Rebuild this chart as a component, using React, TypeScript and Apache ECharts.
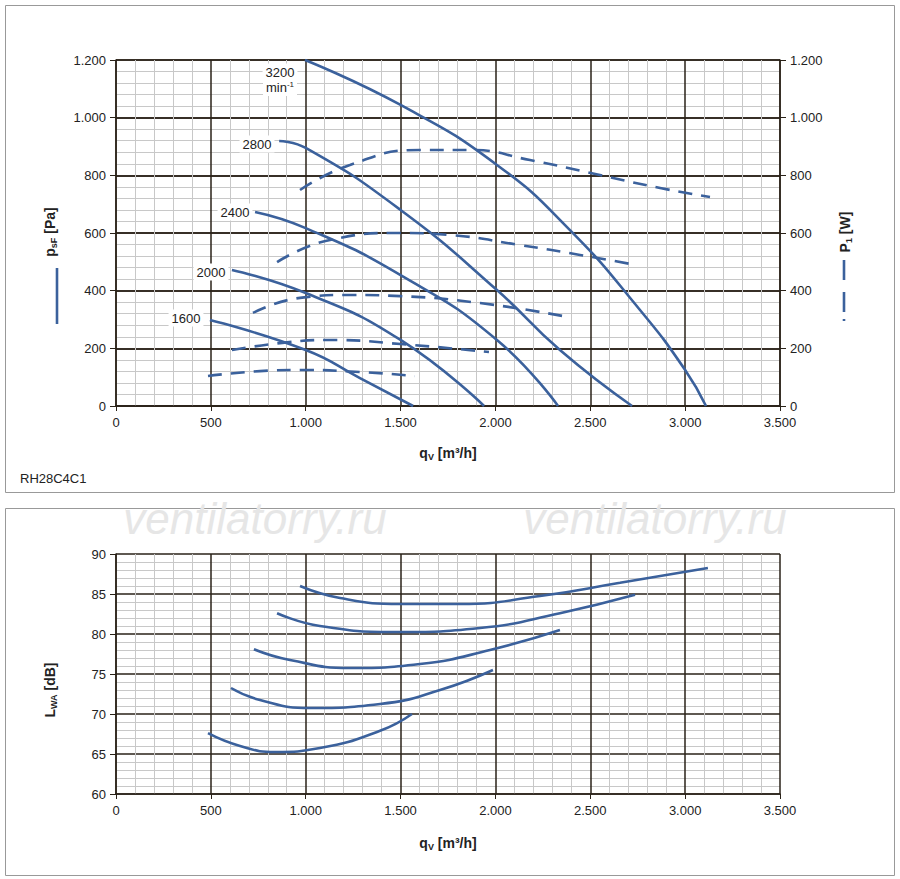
import React, { useEffect, useRef } from 'react';
import * as echarts from 'echarts';

// pressure curves [q m³/h, psF Pa]
const p3200 = [[996, 1200], [1500, 1044], [2008, 836], [2393, 610], [2762, 333], [3000, 125], [3110, 0]];
const p2800 = [[860, 919], [1000, 895], [1500, 680], [2008, 402], [2340, 194], [2720, 0]];
const p2400 = [[733, 673], [1000, 617], [1500, 454], [2008, 229], [2330, 0]];
const p2000 = [[611, 472], [1000, 392], [1500, 229], [1940, 0]];
const p1600 = [[495, 298], [1000, 194], [1286, 97], [1566, 0]];

// power curves [q, P1 W]
const w3200 = [[970, 749], [1233, 836], [1602, 888], [1866, 888], [2182, 853], [2551, 801], [2868, 756], [3131, 725]];
const w2800 = [[849, 499], [1128, 576], [1500, 600], [1761, 593], [2130, 558], [2446, 524], [2741, 489]];
const w2400 = [[722, 323], [970, 375], [1233, 385], [1500, 381], [1919, 357], [2356, 312]];
const w2000 = [[611, 194], [864, 218], [1128, 229], [1500, 215], [1966, 187]];
const w1600 = [[485, 104], [759, 121], [970, 125], [1286, 118], [1576, 104]];

// sound power [q, LwA dB]
const s3200 = [[970, 86.0], [1181, 84.5], [1500, 83.75], [1813, 83.75], [2235, 84.75], [2657, 86.4], [3120, 88.25]];
const s2800 = [[849, 82.6], [1075, 81], [1500, 80.25], [1919, 80.75], [2340, 82.6], [2736, 84.9]];
const s2400 = [[727, 78.1], [917, 76.75], [1233, 75.75], [1602, 76.25], [1971, 78], [2340, 80.5]];
const s2000 = [[606, 73.25], [759, 71.75], [1023, 70.75], [1392, 71.25], [1708, 73], [1987, 75.5]];
const s1600 = [[485, 67.6], [654, 66], [838, 65.25], [1075, 65.75], [1392, 67.9], [1560, 70]];

const speedLabels = ['3200', '2800', '2400', '2000', '1600'];

const BLUE = '#3b619c';
const FONT = '"Liberation Sans", Arial, sans-serif';
const fmt = (v: number) => (v >= 1000 ? Math.floor(v / 1000) + '.' + String(v % 1000).padStart(3, '0') : String(v));

const xAxisBase = (gridIndex: number) => ({
  type: 'value', gridIndex, min: 0, max: 3500, interval: 500,
  axisLine: { show: true, onZero: false, lineStyle: { color: '#2a2218', width: 1.5 } },
  axisTick: { show: true, length: 5, lineStyle: { color: '#2a2218' } },
  axisLabel: { color: '#222', fontFamily: FONT, fontSize: 13, formatter: fmt, margin: 10 },
  splitLine: { show: true, lineStyle: { color: '#2a2218', width: 1.5 } },
  minorTick: { show: false, splitNumber: 5 },
  minorSplitLine: { show: true, lineStyle: { color: '#c8c8c8', width: 1 } },
});

const yAxisBase = (gridIndex: number, min: number, max: number, interval: number, split: number, pos: string, f: any) => ({
  type: 'value', gridIndex, min, max, interval, position: pos,
  axisLine: { show: true, onZero: false, lineStyle: { color: '#2a2218', width: 1.5 } },
  axisTick: { show: true, length: 6, lineStyle: { color: '#2a2218' } },
  axisLabel: { color: '#222', fontFamily: FONT, fontSize: 13, formatter: f, margin: 10 },
  splitLine: { show: true, lineStyle: { color: '#2a2218', width: 1.5 } },
  minorTick: { show: false, splitNumber: split },
  minorSplitLine: { show: true, lineStyle: { color: '#c8c8c8', width: 1 } },
});

const solid = (data: number[][], x: number, y: number) => ({
  type: 'line', data, xAxisIndex: x, yAxisIndex: y, smooth: true, symbol: 'none',
  lineStyle: { color: BLUE, width: 2.6 },
});
const dashed = (data: number[][]) => ({
  type: 'line', data, xAxisIndex: 0, yAxisIndex: 1, smooth: true, symbol: 'none',
  lineStyle: { color: BLUE, width: 2.6, type: [14, 9] },
});

const label = (text: string, x: number, y: number) => ({
  type: 'text', x, y, z: 100,
  style: { text, font: `13px ${FONT}`, fill: '#222', backgroundColor: '#fff', padding: [2, 3], align: 'center', verticalAlign: 'middle' },
});

const axisTitle = (a: string, s: string, b: string) => ({
  text: `{a|${a}}{s|${s}}{a|${b}}`, align: 'center', verticalAlign: 'middle',
  rich: { a: { font: `bold 14px ${FONT}`, fill: '#222' }, s: { font: `bold 9px ${FONT}`, fill: '#222', padding: [8, 0, 0, 0] } },
});

export default function App() {
  const ref = useRef<HTMLDivElement>(null);
  useEffect(() => {
    document.body.style.margin = '0';
    const chart = echarts.init(ref.current!, null, { renderer: 'svg' });
    chart.setOption({
      animation: false,
      backgroundColor: '#fff',
      grid: [
        { left: 116, width: 664, top: 60, height: 346 },
        { left: 116, width: 664, top: 554, height: 240 },
      ],
      xAxis: [xAxisBase(0), xAxisBase(1)],
      yAxis: [
        yAxisBase(0, 0, 1200, 200, 5, 'left', fmt),
        yAxisBase(0, 0, 1200, 200, 5, 'right', fmt),
        yAxisBase(1, 60, 90, 5, 5, 'left', (v: number) => String(v)),
      ],
      series: [
        solid(p3200, 0, 0), solid(p2800, 0, 0), solid(p2400, 0, 0), solid(p2000, 0, 0), solid(p1600, 0, 0),
        dashed(w3200), dashed(w2800), dashed(w2400), dashed(w2000), dashed(w1600),
        solid(s3200, 1, 2), solid(s2800, 1, 2), solid(s2400, 1, 2), solid(s2000, 1, 2), solid(s1600, 1, 2),
      ],
      graphic: [
        { type: 'rect', shape: { x: 5.5, y: 5.5, width: 889, height: 487 }, style: { fill: 'none', stroke: '#999', lineWidth: 1 }, z: -1 },
        { type: 'rect', shape: { x: 5.5, y: 508.5, width: 889, height: 367 }, style: { fill: 'none', stroke: '#999', lineWidth: 1 }, z: -1 },
        { type: 'text', x: 255, y: 518, z: 0, style: { text: 'ventilatorry.ru', font: `italic 44px ${FONT}`, fill: '#e6e6e6', align: 'center', verticalAlign: 'middle' } },
        { type: 'text', x: 655, y: 518, z: 0, style: { text: 'ventilatorry.ru', font: `italic 44px ${FONT}`, fill: '#e6e6e6', align: 'center', verticalAlign: 'middle' } },
        label(speedLabels[0], 280, 72),
        { type: 'text', x: 280, y: 87, z: 100, style: { text: '{a|min}{b|-1}', backgroundColor: '#fff', padding: [2, 3], align: 'center', verticalAlign: 'middle', rich: { a: { font: `13px ${FONT}`, fill: '#222' }, b: { font: `8px ${FONT}`, fill: '#222', padding: [0, 0, 6, 0] } } } },
        label(speedLabels[1], 257, 144),
        label(speedLabels[2], 235, 212),
        label(speedLabels[3], 211, 272),
        label(speedLabels[4], 186, 318),
        { type: 'text', x: 448, y: 453, style: axisTitle('q', 'V', ' [m³/h]') },
        { type: 'text', x: 448, y: 843, style: axisTitle('q', 'V', ' [m³/h]') },
        { type: 'text', x: 20, y: 478, style: { text: 'RH28C4C1', font: `13px ${FONT}`, fill: '#222', verticalAlign: 'middle' } },
        { type: 'text', x: 50, y: 232, rotation: Math.PI / 2, style: axisTitle('p', 'sF', ' [Pa]') },
        { type: 'line', shape: { x1: 57, y1: 268, x2: 57, y2: 324 }, style: { stroke: BLUE, lineWidth: 2.6 } },
        { type: 'text', x: 845, y: 232, rotation: Math.PI / 2, style: axisTitle('P', '1', ' [W]') },
        { type: 'line', shape: { x1: 844, y1: 260, x2: 844, y2: 280 }, style: { stroke: BLUE, lineWidth: 2.6 } },
        { type: 'line', shape: { x1: 844, y1: 292, x2: 844, y2: 312 }, style: { stroke: BLUE, lineWidth: 2.6 } },
        { type: 'line', shape: { x1: 844, y1: 319, x2: 844, y2: 321 }, style: { stroke: BLUE, lineWidth: 2.6 } },
        { type: 'text', x: 50, y: 690, rotation: Math.PI / 2, style: axisTitle('L', 'WA', ' [dB]') },
      ],
    });
    return () => chart.dispose();
  }, []);
  return <div ref={ref} style={{ width: 900, height: 879 }} />;
}
